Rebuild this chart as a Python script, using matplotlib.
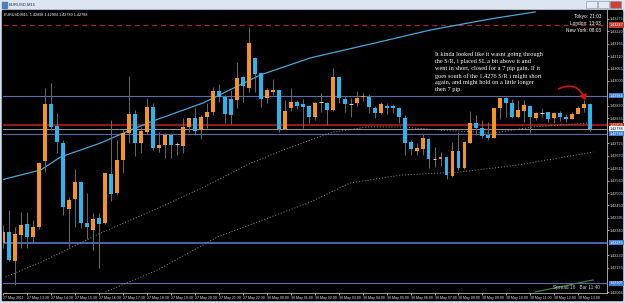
import matplotlib.pyplot as plt
from matplotlib.patches import Rectangle, FancyArrowPatch
import numpy as np

# EURUSD M15 bars (open, high, low, close), oldest first
opens = [1.42284, 1.42333, 1.42205, 1.42320, 1.42368, 1.42311, 1.42355, 1.42646, 1.42898, 1.42801,
         1.42726, 1.42434, 1.42478, 1.42554, 1.42372, 1.42342, 1.42394, 1.42372, 1.42589, 1.42505,
         1.42651, 1.42770, 1.42854, 1.42726, 1.42774, 1.42885, 1.42704, 1.42717, 1.42761, 1.42721,
         1.42712, 1.42797, 1.42836, 1.42783, 1.42841, 1.42863, 1.42956, 1.42929, 1.42920, 1.42916,
         1.43018, 1.42969, 1.43102, 1.43035, 1.42925, 1.42951, 1.42960, 1.42788, 1.42881, 1.42907,
         1.42898, 1.42889, 1.42841, 1.42907, 1.42903, 1.42872, 1.43018, 1.42920, 1.42900, 1.42903,
         1.42929, 1.42929, 1.42881, 1.42858, 1.42889, 1.42889, 1.42881, 1.42836, 1.42730, 1.42690,
         1.42699, 1.42743, 1.42657, 1.42655, 1.42664, 1.42580, 1.42690, 1.42615, 1.42726, 1.42814,
         1.42792, 1.42761, 1.42748, 1.42881, 1.42925, 1.42903, 1.42841, 1.42867, 1.42889, 1.42836,
         1.42858, 1.42863, 1.42836, 1.42858, 1.42841, 1.42832, 1.42854, 1.42881, 1.42898]
highs = [1.42364, 1.42430, 1.42355, 1.42421, 1.42421, 1.42386, 1.42642, 1.42969, 1.42991, 1.42858,
         1.42739, 1.42487, 1.42611, 1.42558, 1.42505, 1.42417, 1.42417, 1.42598, 1.42828, 1.42739,
         1.42788, 1.43022, 1.42872, 1.42797, 1.42925, 1.42903, 1.42774, 1.42770, 1.42770, 1.42730,
         1.42836, 1.42836, 1.42881, 1.42850, 1.42903, 1.42974, 1.42987, 1.42938, 1.42960, 1.43084,
         1.43022, 1.43239, 1.43106, 1.43035, 1.42969, 1.43009, 1.42960, 1.42916, 1.42969, 1.42916,
         1.42920, 1.42894, 1.42907, 1.42947, 1.42907, 1.43058, 1.43018, 1.42934, 1.42925, 1.42956,
         1.42947, 1.42942, 1.42889, 1.42907, 1.42903, 1.42898, 1.42885, 1.42850, 1.42739, 1.42726,
         1.42766, 1.42748, 1.42708, 1.42686, 1.42664, 1.42730, 1.42774, 1.42730, 1.42867, 1.42850,
         1.42828, 1.42819, 1.42881, 1.42925, 1.42929, 1.42920, 1.42916, 1.42916, 1.42894, 1.42863,
         1.42881, 1.42863, 1.42863, 1.42867, 1.42854, 1.42863, 1.42889, 1.42916, 1.42904]
lows = [1.42262, 1.42205, 1.42099, 1.42262, 1.42262, 1.42284, 1.42346, 1.42598, 1.42783, 1.42681,
        1.42408, 1.42266, 1.42355, 1.42350, 1.42302, 1.42253, 1.42174, 1.42368, 1.42469, 1.42496,
        1.42593, 1.42726, 1.42668, 1.42681, 1.42766, 1.42695, 1.42686, 1.42659, 1.42659, 1.42673,
        1.42681, 1.42774, 1.42761, 1.42743, 1.42792, 1.42850, 1.42907, 1.42814, 1.42810, 1.42881,
        1.42907, 1.42951, 1.42951, 1.42885, 1.42903, 1.42938, 1.42774, 1.42788, 1.42867, 1.42876,
        1.42792, 1.42814, 1.42828, 1.42863, 1.42805, 1.42867, 1.42903, 1.42863, 1.42841, 1.42889,
        1.42912, 1.42858, 1.42836, 1.42854, 1.42854, 1.42858, 1.42814, 1.42673, 1.42673, 1.42673,
        1.42673, 1.42615, 1.42620, 1.42624, 1.42567, 1.42576, 1.42607, 1.42611, 1.42726, 1.42761,
        1.42748, 1.42739, 1.42748, 1.42832, 1.42841, 1.42836, 1.42836, 1.42819, 1.42770, 1.42828,
        1.42841, 1.42819, 1.42814, 1.42823, 1.42819, 1.42832, 1.42854, 1.42863, 1.42780]
closes = [1.42333, 1.42209, 1.42324, 1.42364, 1.42311, 1.42355, 1.42637, 1.42898, 1.42797, 1.42730,
          1.42443, 1.42474, 1.42554, 1.42372, 1.42355, 1.42390, 1.42368, 1.42593, 1.42500, 1.42651,
          1.42770, 1.42854, 1.42726, 1.42779, 1.42885, 1.42704, 1.42717, 1.42761, 1.42717, 1.42721,
          1.42797, 1.42836, 1.42779, 1.42841, 1.42863, 1.42956, 1.42929, 1.42854, 1.42850, 1.43013,
          1.42978, 1.43168, 1.43031, 1.42920, 1.42960, 1.42960, 1.42788, 1.42867, 1.42907, 1.42889,
          1.42885, 1.42841, 1.42903, 1.42907, 1.42872, 1.43018, 1.42925, 1.42898, 1.42900, 1.42925,
          1.42934, 1.42885, 1.42858, 1.42898, 1.42881, 1.42881, 1.42841, 1.42726, 1.42699, 1.42704,
          1.42748, 1.42655, 1.42657, 1.42664, 1.42584, 1.42690, 1.42615, 1.42730, 1.42814, 1.42792,
          1.42757, 1.42748, 1.42881, 1.42925, 1.42903, 1.42841, 1.42872, 1.42894, 1.42841, 1.42858,
          1.42858, 1.42832, 1.42858, 1.42841, 1.42832, 1.42854, 1.42881, 1.42898, 1.42788]

# moving averages (bar index, price)
ma_fast_x = [-0.4, 6.3, 9.6, 16.3, 20.1, 24.6, 33.4, 43.0, 51.3, 61.3, 71.3, 81.3, 88.8]
ma_fast_y = [1.42562, 1.42607, 1.42664, 1.42726, 1.42770, 1.42819, 1.42903, 1.43027, 1.43102,
             1.43163, 1.43225, 1.43274, 1.43305]
ma_mid_x = [0.45, 6.8, 16.3, 26.3, 33.5, 41.3, 46.8, 51.3, 55.1, 60.8, 66.3, 73.0, 81.8, 88.5, 98.0]
ma_mid_y = [1.42134, 1.42205, 1.42328, 1.42443, 1.42531, 1.42637, 1.42695, 1.42739, 1.42774,
            1.42797, 1.42797, 1.42783, 1.42770, 1.42797, 1.42814]
ma_slow_x = [17.1, 25.8, 35.8, 43.4, 51.3, 57.9, 66.3, 76.3, 85.8, 98.5]
ma_slow_y = [1.42068, 1.42165, 1.42311, 1.42386, 1.42465, 1.42549, 1.42584, 1.42598, 1.42628, 1.42686]
ma_green_x = [88.8, 98.5]
ma_green_y = [1.42068, 1.42121]

# horizontal lines: price, colour, width, style
hlines = [(1.43247, '#a52a2a', 0.9, (0, (4, 3))),
          (1.42934, '#5a6ea8', 0.8, '-'),
          (1.42804, '#8b1c1c', 1.6, '-'),
          (1.42788, '#9a9a9a', 0.7, '-'),
          (1.42766, '#5a6ea8', 0.8, '-'),
          (1.42285, '#4a66b0', 1.4, '-'),
          (1.42107, '#5a6ea8', 0.8, '-')]
# price labels with coloured boxes on the axis
price_tags = [(1.43247, '#c0392b', 'white'),
              (1.42934, '#3d7fd6', 'white'),
              (1.42804, '#cc1a1a', 'white'),
              (1.42788, 'white', 'black'),
              (1.42766, '#3d7fd6', 'white'),
              (1.42285, '#3d7fd6', 'white'),
              (1.42107, '#3d7fd6', 'white')]

grid_prices = [1.43275, 1.43220, 1.43165, 1.43110, 1.43055, 1.43000, 1.42890, 1.42835,
               1.42725, 1.42670, 1.42615, 1.42560, 1.42505, 1.42450, 1.42395, 1.42340,
               1.42230, 1.42175, 1.42066]

time_labels = ['27 May 2011', '27 May 13:30', '27 May 14:30', '27 May 15:30', '27 May 16:30',
               '27 May 17:30', '27 May 18:30', '27 May 19:30', '27 May 20:30', '27 May 21:30',
               '27 May 22:30', '30 May 00:00', '30 May 01:00', '30 May 02:00', '30 May 03:00',
               '30 May 04:00', '30 May 05:00', '30 May 06:00', '30 May 07:00', '30 May 08:00',
               '30 May 09:00', '30 May 10:00', '30 May 11:00', '30 May 12:00', '30 May 13:00']

note = ("It kinda looked like it wasnt going through\n"
        "the S/R, i placed SL a bit above it and\n"
        "went in short, closed for a 7 pip gain. If it\n"
        "goes south of the 1.4276 S/R i might short\n"
        "again, and might hold on a little longer\n"
        "then 7 pip.")

W, H = 625, 303
BULL = '#f7941d'
BEAR = '#29b5f0'
WICK = '#6a6a6a'
SANS = 'Liberation Sans'

def fx(px):
    return px / W

def fy(py):
    return 1 - py / H

fig = plt.figure(figsize=(W / 100, H / 100), dpi=100)
fig.patch.set_facecolor('#cfdcea')

# window title bar
fig.add_artist(Rectangle((0, fy(10)), 1, fy(0) - fy(10), transform=fig.transFigure,
                         color='#dbe6f2', zorder=0))
fig.text(fx(9), fy(5), 'EURUSD,M15', fontsize=3.0, family=SANS, color='#1e2b3c', va='center')
fig.add_artist(Rectangle((fx(2), fy(8)), fx(5), fy(2) - fy(8), transform=fig.transFigure,
                         color='#4f7fb8'))
for x0, c in [(586, '#e4ebf3'), (598, '#e4ebf3'), (610, '#d04030')]:
    fig.add_artist(Rectangle((fx(x0), fy(8)), fx(11), fy(1) - fy(8), transform=fig.transFigure,
                             facecolor=c, edgecolor='#7d8ea3', lw=0.4))
# black client area
fig.add_artist(Rectangle((fx(2), fy(300)), fx(622) - fx(2), fy(10) - fy(300),
                         transform=fig.transFigure, color='black', zorder=0))

ax = fig.add_axes([fx(3), fy(293), fx(607) - fx(3), fy(10) - fy(293)])
ax.set_facecolor('black')
ax.set_xlim(0.117, 100.78)
ax.set_ylim(1.420632, 1.433135)

for p, c, lw, ls in hlines:
    ax.axhline(p, color=c, lw=lw, ls=ls, zorder=1)

ax.plot(ma_fast_x, ma_fast_y, color='#4aa6d6', lw=0.9, zorder=2)
ax.plot(ma_mid_x, ma_mid_y, color='#8c8c8c', lw=0.7, ls=(0, (1, 2)), zorder=2)
ax.plot(ma_slow_x, ma_slow_y, color='#8c8c8c', lw=0.7, ls=(0, (1, 2)), zorder=2)
ax.plot(ma_green_x, ma_green_y, color='#3c8c3c', lw=0.8, zorder=2)

idx = np.arange(len(opens))
o = np.array(opens)
c = np.array(closes)
ax.vlines(idx, lows, highs, color=WICK, lw=0.7, zorder=3)
up = c > o
dn = c < o
eq = c == o
ax.bar(idx[up], (c - o)[up], bottom=o[up], width=0.66, color=BULL, zorder=4)
ax.bar(idx[dn], (o - c)[dn], bottom=c[dn], width=0.66, color=BEAR, zorder=4)
ax.hlines(o[eq], idx[eq] - 0.33, idx[eq] + 0.33, color='#d8d8d8', lw=0.7, zorder=4)

# axes styling like the terminal
for s in ['top', 'left']:
    ax.spines[s].set_visible(False)
ax.spines['right'].set_color('#bdbdbd')
ax.spines['bottom'].set_color('#bdbdbd')
ax.spines['right'].set_linewidth(0.6)
ax.spines['bottom'].set_linewidth(0.6)

ax.yaxis.tick_right()
ax.set_yticks(grid_prices)
ax.set_yticklabels(['%.5f' % p for p in grid_prices], family=SANS)
ax.tick_params(axis='y', colors='#dcdcdc', labelsize=2.7, length=1.2, width=0.5, pad=0.6)
ax.set_xticks(np.arange(0, 97, 4))
ax.set_xticklabels(time_labels, ha='left', family=SANS)
ax.tick_params(axis='x', colors='#dcdcdc', labelsize=2.6, length=1.5, width=0.5, pad=0.8)

for p, bg, fg in price_tags:
    ax.text(1.004, p, '%.5f' % p, transform=ax.get_yaxis_transform(), fontsize=2.7,
            family=SANS, color=fg, va='center', ha='left', clip_on=False, zorder=6,
            bbox=dict(boxstyle='square,pad=0.15', fc=bg, ec='none'))

# texts on the chart
fig.text(fx(4), fy(15), 'EURUSD,M15  1.42898 1.42904 1.42780 1.42788', fontsize=2.7,
         family=SANS, color='white', va='center')
fig.text(fx(601), fy(14), 'Tokyo: 21:03\nLondon: 13:03\nNew York: 08:03', fontsize=3.4,
         family=SANS, color='white', ha='right', va='top', linespacing=1.45, ma='right')
fig.text(fx(435), fy(52), note, fontsize=4.5, color='white', family='Liberation Serif',
         va='top', ha='left', linespacing=1.4)
fig.text(fx(600), fy(288), 'Spread 16   Bar 11:40', fontsize=3.4, family=SANS,
         color='#c8c8c8', ha='right', va='center')

arrow = FancyArrowPatch((fx(556), fy(90)), (fx(586), fy(103)), transform=fig.transFigure,
                        connectionstyle='arc3,rad=-0.6', arrowstyle='-|>,head_length=3,head_width=2',
                        color='#d41414', lw=1.2)
fig.add_artist(arrow)

fig.savefig('out.png', dpi=100, facecolor=fig.get_facecolor())
